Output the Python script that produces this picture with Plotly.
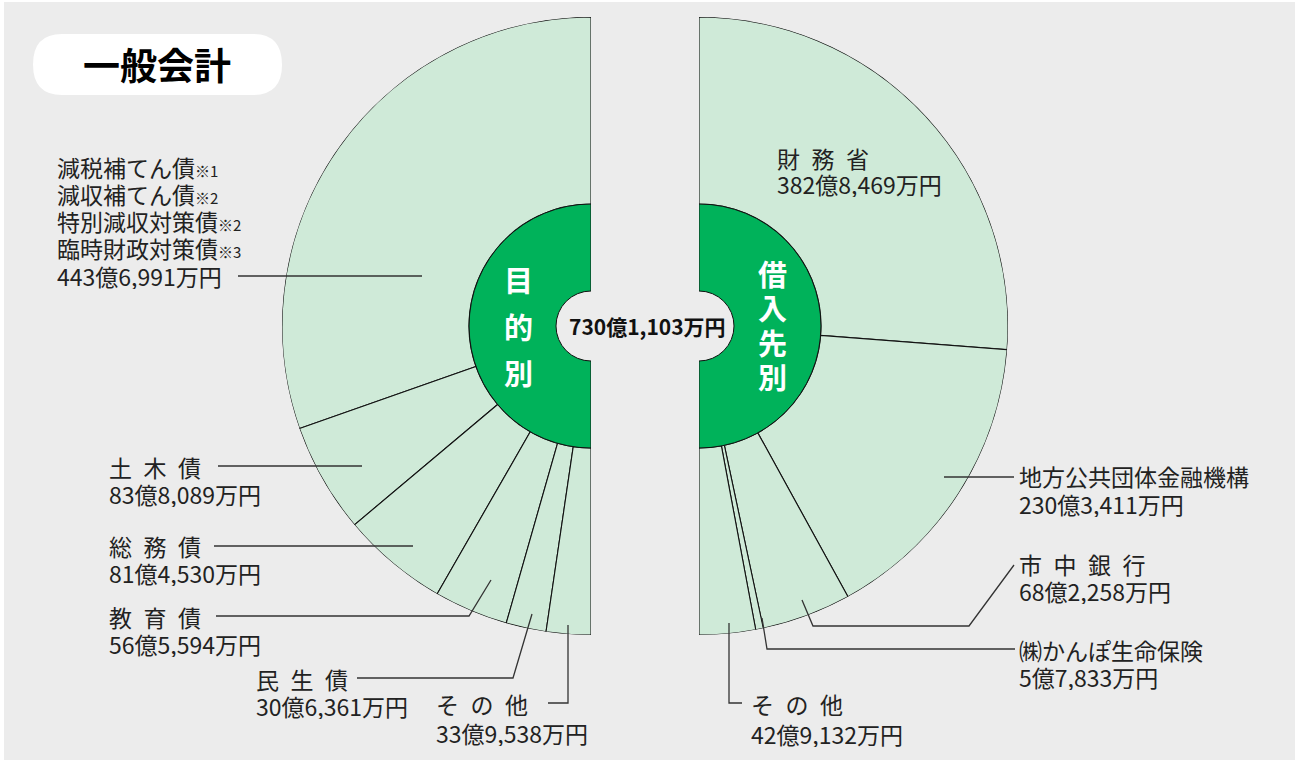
import plotly.graph_objects as go

# ---------------- data (万円) ----------------
purpose_names = ["減税補てん債等", "土木債", "総務債", "教育債", "民生債", "その他"]
purpose_values = [4436991, 838089, 814530, 565594, 306361, 339538]

lender_names = ["財務省", "地方公共団体金融機構", "市中銀行", "㈱かんぽ生命保険", "その他"]
lender_values = [3828469, 2303411, 682258, 57833, 429132]

title_text = "一般会計"
left_hub = "目的別"
right_hub = "借入先別"

# ---------------- style / geometry ----------------
W, H = 1295, 760
BG = "#ececec"
LIGHT = "#cfead8"
DARK = "#00b25a"
TXT = "#222222"
LINE = "#333333"
FONT = "Noto Sans CJK JP"
FS = 23

R_OUT, R_IN, R_NOTCH = 309, 122, 35
CY = 326
CX_L, CX_R = 591, 699


def fmt(v):
    oku, man = divmod(v, 10000)
    return f"{oku}億{man:,}万円"


def px(x):
    return x / W


def py(y):
    return 1 - y / H


def wedges(values):
    tot = sum(values)
    widths = [v / tot * 180 for v in values]
    mids, acc = [], 0.0
    for w in widths:
        mids.append(acc + w / 2)
        acc += w
    return mids, widths


fig = go.Figure()

for vals, sub in ((purpose_values, "polar"), (lender_values, "polar2")):
    mids, widths = wedges(vals)
    fig.add_trace(go.Barpolar(
        theta=mids, width=widths, r=[R_OUT - R_IN] * len(vals), base=[R_IN] * len(vals),
        marker=dict(color=LIGHT, line=dict(color="#111111", width=1.1)),
        subplot=sub, hoverinfo="skip", showlegend=False))
    fig.add_trace(go.Barpolar(
        theta=[90], width=[180], r=[R_IN - R_NOTCH], base=[R_NOTCH],
        marker=dict(color=DARK, line=dict(color="#111111", width=1)),
        subplot=sub, hoverinfo="skip", showlegend=False))

polar_common = dict(
    bgcolor="rgba(0,0,0,0)",
    radialaxis=dict(visible=False, range=[0, R_OUT]),
    angularaxis=dict(visible=False, rotation=90),
)
fig.update_layout(
    polar=dict(**polar_common, sector=[90, 270],
               domain=dict(x=[px(CX_L - R_OUT), px(CX_L)], y=[py(CY + R_OUT), py(CY - R_OUT)])),
    polar2=dict(**polar_common, sector=[-90, 90],
                domain=dict(x=[px(CX_R), px(CX_R + R_OUT)], y=[py(CY + R_OUT), py(CY - R_OUT)])),
)
fig.layout.polar.angularaxis.direction = "counterclockwise"
fig.layout.polar2.angularaxis.direction = "clockwise"

shapes = []
# gray panel with thin white edge at top/left
shapes.append(dict(type="rect", xref="paper", yref="paper", x0=px(4), x1=1, y0=0, y1=py(2),
                   fillcolor=BG, line=dict(width=0), layer="below"))
# title pill
x0, x1, y0, y1, rr = 33, 282, 34, 95, 29
path = (f"M {px(x0 + rr)} {py(y0)} L {px(x1 - rr)} {py(y0)} "
        f"Q {px(x1)} {py(y0)} {px(x1)} {py((y0 + y1) / 2)} "
        f"Q {px(x1)} {py(y1)} {px(x1 - rr)} {py(y1)} "
        f"L {px(x0 + rr)} {py(y1)} "
        f"Q {px(x0)} {py(y1)} {px(x0)} {py((y0 + y1) / 2)} "
        f"Q {px(x0)} {py(y0)} {px(x0 + rr)} {py(y0)} Z")
shapes.append(dict(type="path", xref="paper", yref="paper", path=path,
                   fillcolor="white", line=dict(width=0), layer="below"))

annotations = []


def text(x, y, s, size=FS, color=TXT, anchor="left", bold=False, height=None):
    a = dict(
        x=px(x), y=py(y), xref="paper", yref="paper", text=(f"<b>{s}</b>" if bold else s),
        showarrow=False, xanchor=anchor, yanchor="middle",
        font=dict(family=FONT, size=size, color=color))
    if height:
        a["height"] = height
    annotations.append(a)


def leader(points):
    d = "M " + " L ".join(f"{px(a)} {py(b)}" for a, b in points)
    shapes.append(dict(type="path", xref="paper", yref="paper", path=d,
                       line=dict(color=LINE, width=1.3)))


SP = "\u2002"
small = "<span style='font-size:15px'>{}</span>"

# ---- left (目的別) labels ----
first_lines = ["減税補てん債" + small.format("※1"), "減収補てん債" + small.format("※2"),
               "特別減収対策債" + small.format("※2"), "臨時財政対策債" + small.format("※3"),
               fmt(purpose_values[0])]
for i, s in enumerate(first_lines):
    text(55, 166 + i * 27.3, s, height=27)
leader([(238, 276), (422, 276)])

left_specs = [
    (1, 107, 466, 493, [(218, 466), (362, 466)]),
    (2, 107, 545, 572, [(214, 546), (413, 546)]),
    (3, 107, 616, 643, [(216, 616), (469, 616), (491, 580)]),
    (4, 254, 678, 705, [(357, 678), (513, 678), (532, 614)]),
    (5, 434, 703, 732, [(548, 703), (568, 703), (568, 625)]),
]
for idx, x, y_a, y_b, pts in left_specs:
    text(x, y_a, SP.join(purpose_names[idx]), height=27)
    text(x, y_b, fmt(purpose_values[idx]), height=27)
    leader(pts)

# ---- right (借入先別) labels ----
text(775, 157, SP.join(lender_names[0]), height=27)
text(775, 184, fmt(lender_values[0]), height=27)

right_specs = [
    (1, 1017, 476, 503, False, [(1014, 477), (944, 477)]),
    (2, 1017, 563, 590, True, [(1014, 565), (969, 626), (813, 626), (802, 600)]),
    (3, 1017, 649, 676, False, [(1015, 649), (767, 649), (762, 618)]),
    (4, 749, 703, 733, True, [(742, 703), (729, 703), (729, 623)]),
]
for idx, x, y_a, y_b, spaced, pts in right_specs:
    name = SP.join(lender_names[idx]) if spaced else lender_names[idx]
    text(x, y_a, name, height=27)
    text(x, y_b, fmt(lender_values[idx]), height=27)
    leader(pts)

# ---- hub texts ----
for i, ch in enumerate(left_hub):
    text(518, 279 + i * 46.5, ch, size=29, color="white", anchor="center", bold=True, height=40)
for i, ch in enumerate(right_hub):
    text(772, 272 + i * 34.5, ch, size=29, color="white", anchor="center", bold=True, height=33)

text(647, CY, fmt(sum(purpose_values)), size=21, color="#111111", anchor="center", bold=True)
text(157, 64, title_text, size=37, color="#000000", anchor="center", bold=True)

fig.update_layout(
    width=W, height=H, margin=dict(l=0, r=0, t=0, b=0),
    paper_bgcolor="white", plot_bgcolor="white",
    shapes=shapes, annotations=annotations, showlegend=False,
)
fig.write_html("out.html", config={"displayModeBar": False},
               post_script="document.body.style.margin='0';")
